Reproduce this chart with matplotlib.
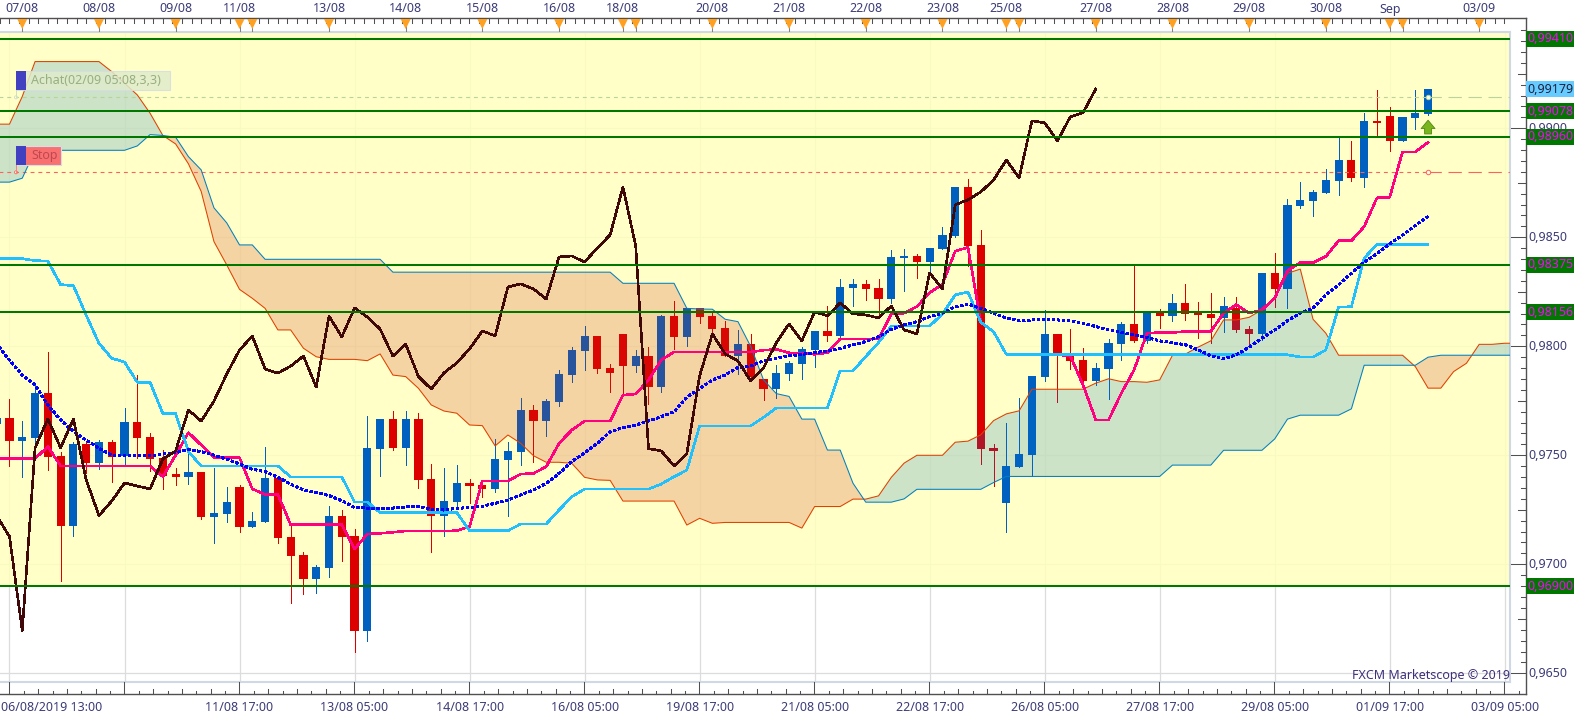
import numpy as np
import matplotlib
matplotlib.use("Agg")
import matplotlib.pyplot as plt
from matplotlib.patches import Rectangle, Circle

plt.rcParams['font.family'] = ['Noto Sans', 'DejaVu Sans']

# all prices in 1e-5 units, bars start at index -1, ten values per row
open_ = [97644,97670,97566,97581,97786,97497,97177,97552,97466,97561,
         97497,97653,97584,97488,97414,97402,97424,97219,97232,97355,
         97173,97196,97396,97125,97043,96934,96983,97222,97130,96696,
         97531,97667,97534,97667,97391,97223,97286,97373,97364,97346,
         97479,97515,97708,97657,97744,97868,97978,98047,97900,98056,
         97909,97955,97813,98139,98043,98176,98139,98084,97955,98011,
         97850,97804,97873,97919,97983,98070,98048,98268,98286,98268,
         98217,98405,98414,98387,98447,98506,98731,98465,97534,97282,
         97447,97502,97860,98057,97965,97938,97841,97896,98011,98103,
         98025,98158,98140,98199,98158,98149,98130,98176,98080,98057,
         98337,98263,98644,98667,98704,98759,98855,98772,99034,99057,
         98942,99048,99066]
high = [97680,97757,97657,97830,97972,97515,97563,97563,97570,97570,
        97716,97867,97601,97524,97442,97524,97424,97442,97355,97364,
        97240,97538,97405,97180,97057,96997,97268,97249,97162,97680,
        97667,97703,97703,97694,97460,97442,97456,97390,97364,97575,
        97561,97763,97731,97758,97891,97997,98093,98047,97919,98056,
        97983,97997,98143,98208,98176,98176,98151,98116,98075,98057,
        97850,97915,97933,97997,98070,98185,98309,98309,98304,98309,
        98442,98447,98424,98451,98548,98731,98768,98534,97552,97649,
        97763,97864,98167,98057,98080,97993,97924,98034,98112,98373,
        98158,98172,98240,98286,98204,98245,98227,98227,98094,98337,
        98428,98676,98754,98717,98814,98961,98942,99071,99176,99098,
        99052,99176,99181]
low = [97640,97451,97402,97547,97433,96925,97131,97420,97439,97379,
       97456,97486,97430,97347,97364,97370,97209,97099,97196,97150,
       97173,97196,97099,96824,96864,96870,96942,97015,96598,96650,
       97405,97524,97456,97350,97057,97131,97254,97281,97309,97333,
       97223,97456,97471,97588,97726,97836,97891,97877,97790,97776,
       97882,97735,97790,97987,98001,98108,98065,97955,97873,97846,
       97754,97765,97846,97850,97907,98025,98029,98185,98213,98144,
       98199,98254,98314,98335,98447,98502,98369,97460,97360,97149,
       97447,97406,97841,97745,97896,97841,97823,97759,97938,98020,
       98016,98084,98117,98121,98039,98016,98066,98066,98002,98029,
       98181,98176,98635,98598,98704,98695,98759,98731,98965,98896,
       98942,98997,99062]
close = [97670,97567,97584,97786,97494,97177,97552,97466,97561,97494,
         97653,97581,97485,97405,97402,97424,97219,97235,97286,97173,
         97199,97396,97122,97040,96934,96988,97222,97127,96696,97534,
         97667,97534,97667,97388,97223,97290,97373,97359,97346,97483,
         97520,97708,97657,97749,97873,97983,98047,97896,97877,97909,
         97955,97813,98139,98043,98176,98134,98079,97955,98010,97861,
         97804,97878,97924,97988,98070,98048,98272,98286,98263,98217,
         98410,98414,98387,98451,98511,98731,98460,97531,97520,97451,
         97507,97864,98057,97965,97933,97841,97901,98016,98103,98025,
         98158,98140,98199,98149,98144,98130,98185,98075,98057,98337,
         98263,98649,98672,98708,98763,98855,98772,99034,99025,98942,
         99052,99071,99181]
tenkan = [97485,97485,97485,97485,97540,97451,97451,97451,97451,97451,
          97451,97451,97451,97402,97501,97604,97547,97489,97489,97489,
          97346,97320,97320,97182,97182,97182,97182,97182,97070,97139,
          97142,97147,97153,97153,97153,97153,97154,97173,97382,97382,
          97382,97414,97417,97448,97555,97616,97657,97657,97657,97776,
          97781,97845,97937,97974,97974,97974,97974,97974,97974,97974,
          97982,97986,97970,97970,97963,97971,98034,98034,98034,98034,
          98148,98152,98182,98246,98285,98436,98454,98110,98067,97963,
          97961,97961,97961,97961,97956,97823,97662,97662,97785,97892,
          98060,98063,98063,98068,98068,98068,98152,98191,98152,98167,
          98221,98347,98384,98384,98412,98484,98484,98549,98681,98684,
          98892,98892,98935]
kijun = [98402,98402,98402,98393,98391,98283,98278,98143,98014,97945,
         97928,97835,97835,97691,97691,97517,97451,97451,97451,97451,
         97451,97451,97451,97401,97401,97401,97401,97401,97286,97286,
         97237,97237,97237,97237,97237,97237,97237,97154,97154,97154,
         97154,97185,97185,97185,97249,97310,97345,97345,97345,97345,
         97345,97345,97368,97402,97432,97635,97635,97635,97635,97635,
         97674,97717,97717,97717,97717,97717,97887,97887,97953,98017,
         98093,98093,98093,98093,98148,98236,98249,98110,98067,97963,
         97961,97961,97961,97961,97961,97961,97961,97961,97961,97961,
         97961,97961,97961,97961,97961,97961,97961,97961,97961,97961,
         97961,97961,97951,97951,97983,98179,98182,98404,98468,98468,
         98468,98468,98468]
avg_line = [98010,97937,97868,97823,97731,97662,97609,97570,97532,97501,
            97497,97497,97497,97506,97512,97527,97517,97501,97482,97460,
            97436,97425,97399,97368,97341,97329,97315,97292,97260,97258,
            97257,97258,97263,97265,97252,97249,97257,97260,97266,97280,
            97295,97318,97341,97371,97417,97471,97512,97555,97608,97627,
            97639,97657,97677,97700,97766,97807,97845,97868,97903,97910,
            97934,97945,97956,97963,97971,97979,97991,98006,98022,98044,
            98078,98098,98113,98136,98152,98182,98194,98174,98152,98129,
            98118,98121,98123,98121,98117,98106,98091,98075,98065,98052,
            98040,98025,98017,98007,97984,97956,97942,97961,97996,98037,
            98075,98118,98152,98175,98236,98282,98335,98385,98425,98470,
            98510,98555,98595]
# the two cloud spans run on past the last bar, up to index 118
span_a = [99019,99019,99146,99306,99306,99306,99306,99306,99306,99260,
          99207,99153,99069,98967,98928,98837,98710,98480,98373,98261,
          98220,98174,98075,98075,97991,97952,97940,97940,97940,97934,
          97965,97868,97861,97807,97731,97703,97693,97639,97636,97543,
          97593,97555,97498,97468,97468,97463,97399,97387,97385,97290,
          97290,97290,97290,97290,97180,97211,97188,97192,97192,97192,
          97192,97192,97192,97166,97265,97265,97265,97299,97299,97314,
          97399,97464,97500,97500,97500,97560,97565,97594,97659,97690,
          97704,97803,97803,97803,97803,97803,97831,97851,97838,97838,
          97835,97846,97959,97964,97996,98025,98121,98121,98133,98167,
          98221,98335,98354,98124,98060,97959,97959,97959,97959,97959,
          97959,97907,97808,97808,97884,97922,98009,98009,98014,98014]
span_b = [98753,98753,98771,98898,98899,98899,98899,98899,98899,98899,
          98899,98919,98971,98967,98959,98870,98809,98635,98566,98465,
          98465,98399,98399,98399,98399,98399,98399,98399,98399,98399,
          98399,98340,98340,98340,98340,98340,98340,98340,98340,98340,
          98340,98340,98340,98340,98340,98340,98340,98340,98340,98289,
          98289,98289,98289,98289,98174,98171,98170,98124,98113,97999,
          97846,97783,97770,97666,97666,97524,97524,97372,97285,97285,
          97285,97300,97344,97344,97344,97344,97344,97344,97375,97403,
          97403,97403,97403,97403,97403,97403,97403,97403,97403,97403,
          97403,97403,97455,97455,97455,97455,97523,97523,97523,97523,
          97575,97666,97684,97684,97684,97684,97713,97913,97913,97913,
          97913,97913,97950,97959,97959,97959,97959,97959,97959,97959]

level_prices = [99410, 99078, 98960, 98375, 98156, 96900]
buy_price = 99142
stop_price = 98798
last_price = 99179
axis_prices = [96500, 97000, 97500, 98000, 98500, 99000]

top_idx = [1, 7, 13, 18, 19, 25, 31, 37, 43, 48, 49, 55, 61, 67, 73, 78, 79,
           85, 91, 97, 103, 108, 109, 115]
top_labels = ['07/08', '08/08', '09/08', '11/08', '', '13/08', '14/08', '15/08',
              '16/08', '18/08', '', '20/08', '21/08', '22/08', '23/08', '25/08',
              '', '27/08', '28/08', '29/08', '30/08', 'Sep', '', '03/09']
bottom_idx = [0, 18, 27, 36, 45, 54, 63, 72, 81, 90, 99, 108, 117]
bottom_labels = ['06/08/2019 13:00', '11/08 17:00', '13/08 05:00', '14/08 17:00',
                 '16/08 05:00', '19/08 17:00', '21/08 05:00', '22/08 17:00',
                 '26/08 05:00', '27/08 17:00', '29/08 05:00', '01/09 17:00',
                 '03/09 05:00']

UP = '#0060C0'
DOWN = '#DC0000'
TEXT = '#3C3C78'


def prices(values):
    """scale 1e-5 units to real prices"""
    return np.array(values) / 1e5


def comma(value, digits):
    """price label with a decimal comma"""
    return ('%.*f' % (digits, value)).replace('.', ',')


fig = plt.figure(figsize=(15.83, 7.2), dpi=100)
ax = fig.add_axes([0, (720 - 681.7) / 720, 1510 / 1583, 650 / 720])
ax.set_xlim(-0.743, 117.41)
ax.set_ylim(0.964615, 0.99443)
ax.set_xticks([])
ax.set_yticks([])
for side in ['top', 'right', 'bottom']:
    ax.spines[side].set_color('#D0D8E6')
    ax.spines[side].set_linewidth(1.5)
ax.spines['left'].set_visible(False)

# grid sits under a slightly see-through yellow band
for i in range(0, 118, 9):
    ax.axvline(i, color='#DCDCDC', lw=0.9, zorder=0)
for p in np.arange(0.965, 0.995, 0.005):
    ax.axhline(p, color='#DCDCDC', lw=0.9, zorder=0)
ax.axhspan(0.969, 0.99443, color=(1, 1, 190 / 255), alpha=0.85, lw=0, zorder=1)

# candles
o, h, l, c = prices(open_), prices(high), prices(low), prices(close)
bar_x = np.arange(len(o)) - 1
colors = [UP if c[k] >= o[k] else DOWN for k in range(len(o))]
ax.vlines(bar_x, l, h, colors=colors, lw=0.68, zorder=2, antialiased=False)
ax.bar(bar_x, np.abs(c - o), bottom=np.minimum(o, c), width=0.64, color=colors,
       lw=0, zorder=2, antialiased=False)

# cloud goes over the candles, tinted like its border lines
a, b = prices(span_a), prices(span_b)
span_x = np.arange(len(a)) - 1
ax.fill_between(span_x, a, b, where=a >= b, interpolate=True, color=(0, 115 / 255, 200 / 255),
                alpha=0.2, lw=0, zorder=3)
ax.fill_between(span_x, a, b, where=a < b, interpolate=True, color=(205 / 255, 40 / 255, 20 / 255),
                alpha=0.2, lw=0, zorder=3)
ax.plot(span_x, a, color='#E04000', lw=0.75, zorder=4)
ax.plot(span_x, b, color='#0080C0', lw=0.75, zorder=4)

# order lines
for price, col in [(buy_price, '#B9D39B'), (stop_price, '#FF6060')]:
    ax.plot([-1, 111], [price / 1e5] * 2, color=col, lw=0.8, ls=(0, (3.5, 3.5)), zorder=3.5)
    ax.plot([111, 118], [price / 1e5] * 2, color=col, lw=0.8, ls=(0, (12, 6)), zorder=3.5)
    ax.plot([111], [price / 1e5], 'o', ms=3.2, mfc='#FFFFE0', mec=col, mew=0.7, zorder=3.6)

# indicators
ax.plot(bar_x, prices(tenkan), color='#FF0080', lw=1.15, zorder=5, antialiased=False)
ax.plot(bar_x, prices(kijun), color='#20C0FF', lw=1.15, zorder=6, antialiased=False)
ax.plot(bar_x, prices(avg_line), color='#0000FF', lw=1.5, ls=(0, (1, 1)), zorder=7, antialiased=False)
# lagging line is the close drawn 26 bars back
lag = c[26:]
ax.plot(bar_x[:len(lag)], lag, color='#400808', lw=1.15, zorder=8, antialiased=False)

for price in level_prices:
    ax.axhline(price / 1e5, color='#007800', lw=1.45, zorder=9, antialiased=True)

ax.annotate('', xy=(111, 0.99037), xytext=(111, 0.98974), zorder=10,
            arrowprops=dict(width=5, headwidth=10, headlength=6, shrink=0,
                            fc='#7AB51D', ec='#4F8A10', lw=0.6))

# window chrome in pixel coordinates on a cover axes
fig.canvas.draw()
deco = fig.add_axes([0, 0, 1, 1], zorder=20)
deco.set_xlim(0, 1583)
deco.set_ylim(720, 0)
deco.axis('off')


def px_x(i):
    return ax.transData.transform((i, 0.98))[0]


def px_y(price):
    return 720 - ax.transData.transform((0, price))[1]


# top ruler
deco.plot([0, 1526], [18.3, 18.3], color='#505050', lw=1)
for tx in px_x(0) + (115 / 12) * np.arange(-1, 157):
    if tx <= 1526:
        deco.plot([tx, tx], [18.3, 22.5], color='#505050', lw=0.75)
for i, label in zip(top_idx, top_labels):
    tx = px_x(i)
    deco.plot([tx, tx], [26, 31], color='#808080', lw=0.75, zorder=3)
    deco.fill([tx - 5, tx + 5, tx], [19, 19, 29], color='#FFA020', lw=0, zorder=4)
    if label:
        deco.text(tx, 9, label, ha='center', va='center', fontsize=9, color=TEXT)

# bottom ruler
deco.plot([0, 1526], [694.3, 694.3], color='#505050', lw=1)
for k in range(-1, 106):
    tx = px_x(0) + k * 115 / 8
    if tx > 1526:
        break
    if k % 8 == 0:
        top = 681.7
    elif k % 2 == 0:
        top = 688.5
    else:
        top = 691
    deco.plot([tx, tx], [top, 694.3], color='#505050', lw=0.75)
for i, label in zip(bottom_idx, bottom_labels):
    tx = px_x(i)
    if i == 0:
        deco.text(1, 707.7, label, ha='left', va='center', fontsize=9, color=TEXT)
    else:
        deco.text(tx, 707.7, label, ha='center', va='center', fontsize=9, color=TEXT)

# price axis
deco.plot([1526, 1526], [18.3, 694.3], color='#505050', lw=1)
for p in np.arange(96500, 99451, 50):
    ty = px_y(p / 1e5)
    if p % 500 == 0:
        left = 1511
    elif p % 250 == 0:
        left = 1518
    else:
        left = 1521
    deco.plot([left, 1526], [ty, ty], color='#505050', lw=0.75)
for p in axis_prices:
    deco.text(1528.5, px_y(p / 1e5), comma(p / 1e5, 4), ha='left', va='center',
              fontsize=9, color=TEXT, zorder=3)

# price tags, these cover the axis numbers
for p in level_prices:
    ty = px_y(p / 1e5)
    deco.add_patch(Rectangle((1525.7, ty - 8), 48.3, 16, fc='#007800', lw=0, zorder=4))
    deco.text(1527.5, ty, comma(p / 1e5, 5), ha='left', va='center', fontsize=9,
              color='#FF00FF', zorder=5)
ty = px_y(last_price / 1e5)
deco.add_patch(Rectangle((1525.7, ty - 8), 48.3, 16, fc='#66CCFF', lw=0, zorder=4))
deco.text(1527.5, ty, comma(last_price / 1e5, 5), ha='left', va='center', fontsize=9,
          color='#202040', zorder=5)

# order tickets
deco.add_patch(Rectangle((16, 71), 154, 18.5, fc='#E0ECCC', ec='#D5DDE5', lw=0.8, alpha=0.85))
deco.add_patch(Rectangle((16, 71), 10, 18.5, fc='#4040C0', lw=0))
deco.text(31, 80.5, 'Achat(02/09 05:08,3,3)', ha='left', va='center', fontsize=9, color='#98AF80')
deco.plot([16, 16], [89.5, px_y(buy_price / 1e5)], color='#D0DDC0', lw=0.7)
deco.add_patch(Circle((16, px_y(buy_price / 1e5)), 1.5, fc='#FFFFE0', ec='#D0DDC0', lw=0.6))

deco.add_patch(Rectangle((16, 146), 45.5, 18.5, fc='#F87070', ec='#D5DDE5', lw=0.8))
deco.add_patch(Rectangle((16, 146), 10, 18.5, fc='#4040C0', lw=0))
deco.text(31, 155.5, 'Stop', ha='left', va='center', fontsize=9, color='#C04850')
deco.plot([16, 16], [164.5, px_y(stop_price / 1e5)], color='#FF8080', lw=0.7)
deco.add_patch(Circle((16, px_y(stop_price / 1e5)), 1.5, fc='#FFFFE0', ec='#FF6060', lw=0.6))

deco.text(1510, 675, 'FXCM Marketscope © 2019', ha='right', va='center', fontsize=9,
          color='#40307A')

fig.savefig('out.png', dpi=100)
